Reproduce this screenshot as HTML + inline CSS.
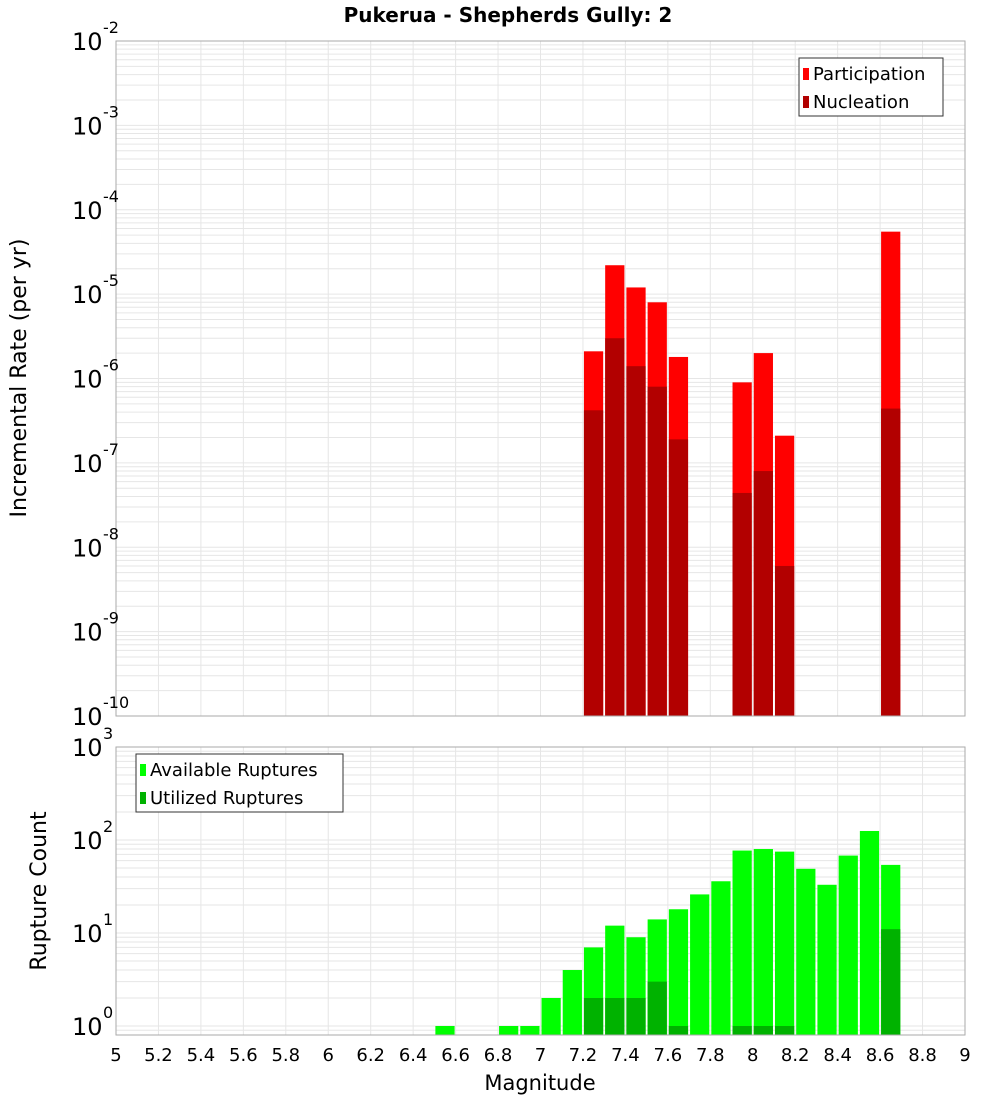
<!DOCTYPE html>
<html><head><meta charset="utf-8"><style>
body{margin:0;background:#fff;width:1000px;height:1100px;overflow:hidden;font-family:"Liberation Sans","DejaVu Sans",sans-serif;}
svg text{font-family:"DejaVu Sans","Liberation Sans",sans-serif;}
</style></head><body>
<svg id="chart" width="1000" height="1100" xmlns="http://www.w3.org/2000/svg"></svg>
<script>
const binStarts=[7.2,7.3,7.4,7.5,7.6,7.9,8.0,8.1,8.6];
const participation=[2.1e-6,2.2e-5,1.2e-5,8e-6,1.8e-6,9e-7,2e-6,2.1e-7,5.5e-5];
const nucleation=[4.2e-7,3e-6,1.4e-6,8e-7,1.9e-7,4.4e-8,8e-8,6e-9,4.4e-7];
const countBins=[6.5,6.8,6.9,7.0,7.1,7.2,7.3,7.4,7.5,7.6,7.7,7.8,7.9,8.0,8.1,8.2,8.3,8.4,8.5,8.6];
const available=[1,1,1,2,4,7,12,9,14,18,26,36,77,80,75,49,33,68,125,54];
const utilBins=[7.2,7.3,7.4,7.5,7.6,7.9,8.0,8.1,8.6];
const utilized=[2,2,2,3,1,1,1,1,11];
const xTicks=["5","5.2","5.4","5.6","5.8","6","6.2","6.4","6.6","6.8","7","7.2","7.4","7.6","7.8","8","8.2","8.4","8.6","8.8","9"];
const topExps=[-10,-9,-8,-7,-6,-5,-4,-3,-2];
const botExps=[0,1,2,3];

const NS="http://www.w3.org/2000/svg";
const svg=document.getElementById('chart');
function el(t,a,p){const e=document.createElementNS(NS,t);for(const k in a)e.setAttribute(k,a[k]);(p||svg).appendChild(e);return e;}
const L=116,R=965,BW=0.1;
const x=m=>L+(m-5)/4*(R-L);
const T1=41,B1=716; const y1=v=>B1-(Math.log10(v)+10)*(B1-T1)/8;
const T2=747,B2=1035; const D2=93; const y2=v=>1026-Math.log10(v)*D2;

function grid(top,bot,yf,lo,hi,name){
  const g=el('g',{});  
  for(let e=lo;e<=hi;e++)for(let k=1;k<10;k++){const v=k*Math.pow(10,e);const yy=yf(v);if(yy<top-0.5||yy>bot)continue;
    el('line',{x1:L,x2:R,y1:yy,y2:yy,stroke:'#e6e6e6','stroke-width':1},g);}
  for(let i=0;i<xTicks.length;i++){const xx=x(parseFloat(xTicks[i]));el('line',{x1:xx,x2:xx,y1:top,y2:bot,stroke:'#e6e6e6','stroke-width':1},g);}
}
grid(T1,B1,y1,-10,-2,'top-grid');
grid(T2,B2,y2,-1,3,'bottom-grid');

function bars(bins,vals,yf,base,color,name){
  for(let i=0;i<bins.length;i++){const x0=x(bins[i])+1,x1=x(bins[i]+BW)-1;const yy=Math.max(yf(vals[i]),0);
    const r=el('rect',{x:x0,y:yy,width:x1-x0,height:base-yy,fill:color});
    
    }
}
bars(binStarts,participation,y1,B1,'#ff0000','participation-bar');
bars(binStarts,nucleation,y1,B1,'#b20000','nucleation-bar');
bars(countBins,available,y2,B2,'#00ff00','available-bar');
bars(utilBins,utilized,y2,B2,'#00b200','utilized-bar');

let f1=el('rect',{x:L,y:T1,width:R-L,height:B1-T1,fill:'none',stroke:'#aaa'});

let f2=el('rect',{x:L,y:T2,width:R-L,height:B2-T2,fill:'none',stroke:'#aaa'});


function ylab(exps,yf,name){
  for(const e of exps){const yy=yf(Math.pow(10,e));
    const t=el('text',{x:72,y:yy+9,'font-size':24,fill:'#000'});t.textContent='10';
    
    const s=el('text',{x:103,y:yy-8,'font-size':16,fill:'#000'});s.textContent=String(e);
    }
}
ylab(topExps,y1,'top-y-tick-label');
ylab(botExps,y2,'bottom-y-tick-label');
for(const s of xTicks){const t=el('text',{x:x(parseFloat(s)),y:1061,'font-size':18,'text-anchor':'middle',fill:'#000'});t.textContent=s;
  }

let t=el('text',{x:508,y:22,'font-size':20,'font-weight':'bold','text-anchor':'middle'});t.textContent='Pukerua - Shepherds Gully: 2';

t=el('text',{x:540,y:1090,'font-size':21,'text-anchor':'middle'});t.textContent='Magnitude';

t=el('text',{x:0,y:0,'font-size':22,'text-anchor':'middle',transform:'translate(26,378) rotate(-90)'});t.textContent='Incremental Rate (per yr)';

t=el('text',{x:0,y:0,'font-size':22,'text-anchor':'middle',transform:'translate(46,891) rotate(-90)'});t.textContent='Rupture Count';


function legend(x0,y0,w,items,name){
  const g=el('g',{});
  el('rect',{x:x0,y:y0,width:w,height:58,fill:'#fff',stroke:'#333'},g);
  items.forEach((it,i)=>{el('rect',{x:x0+4,y:y0+10+i*28,width:6,height:12,fill:it[1]},g);
    const tt=el('text',{x:x0+14,y:y0+22+i*28,'font-size':18},g);tt.textContent=it[0];
    });
}
legend(799,58,144,[['Participation','#ff0000'],['Nucleation','#b20000']],'top-legend');
legend(136,754,207,[['Available Ruptures','#00ff00'],['Utilized Ruptures','#00b200']],'bottom-legend');
</script>
</body></html>
